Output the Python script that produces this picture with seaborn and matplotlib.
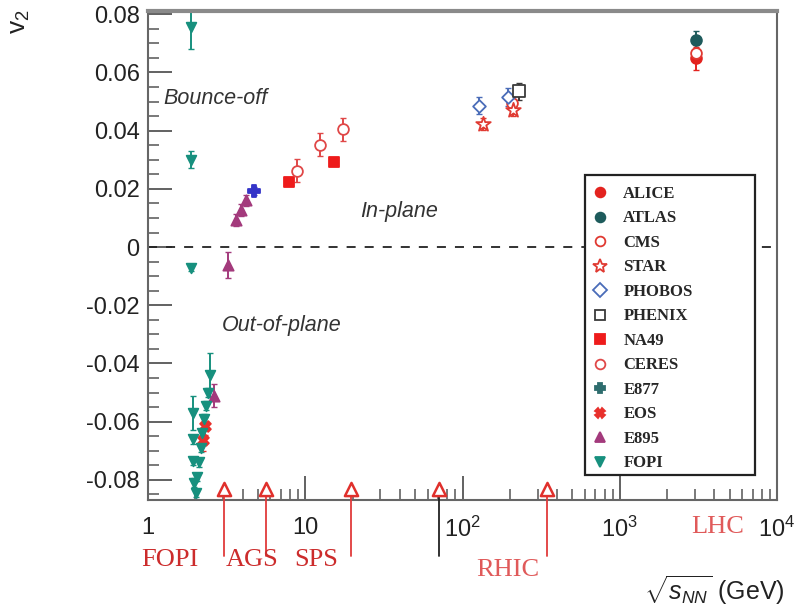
import matplotlib
matplotlib.use('Agg')
import numpy as np
import pandas as pd
import matplotlib.pyplot as plt
import seaborn as sns
from matplotlib.lines import Line2D
from matplotlib.patches import Rectangle
from matplotlib.ticker import MultipleLocator, FixedLocator, FuncFormatter, LogLocator, NullFormatter

# ---------------- data ----------------
alice_x = [3050]; alice_y = [0.0648]; alice_e = [0.004]
atlas_x = [3050]; atlas_y = [0.0712]; atlas_e = [0.003]
cms_x = [205, 3050]; cms_y = [0.0495, 0.0665]; cms_e = [0.002, 0.003]
star_x = [136, 208]; star_y = [0.0422, 0.0470]; star_e = [0.002, 0.002]
phobos_x = [127, 196]; phobos_y = [0.0486, 0.0515]; phobos_e = [0.003, 0.003]
phenix_x = [228]; phenix_y = [0.0535]; phenix_e = [0.003]
na49_x = [7.9, 15.3]; na49_y = [0.0222, 0.0292]; na49_e = [0.001, 0.001]
ceres_x = [8.8, 12.4, 17.5]; ceres_y = [0.0262, 0.0352, 0.0405]; ceres_e = [0.004, 0.004, 0.004]
e877_x = [4.72]; e877_y = [0.0193]; e877_e = [0.0015]
eos_x = [2.25, 2.31]; eos_y = [-0.0662, -0.0615]; eos_e = [0.004, 0.003]
e895_x = [2.62, 3.25, 3.62, 3.90, 4.20]; e895_y = [-0.0510, -0.0062, 0.0092, 0.0128, 0.0160]
e895_e = [0.004, 0.0045, 0.002, 0.002, 0.002]
fopi_x = [1.88, 1.88, 1.88, 1.92, 1.93, 1.94, 1.95, 2.01, 2.06, 2.11, 2.16, 2.21, 2.27, 2.33, 2.39, 2.47]
fopi_y = [0.0755, 0.0300, -0.0072, -0.0570, -0.0660, -0.0735, -0.0810, -0.0845, -0.0790,
          -0.0740, -0.0690, -0.0640, -0.0590, -0.0545, -0.0500, -0.0440]
fopi_e = [0.0075, 0.0030, 0.0010, 0.0060, 0.0015, 0.0015, 0.0015, 0.0015, 0.0015,
          0.0015, 0.0015, 0.0015, 0.0015, 0.0015, 0.0015, 0.0075]

arrow_x = [3.06, 5.6, 19.5, 71, 344]
region_labels = ['FOPI', 'AGS', 'SPS', 'RHIC', 'LHC']
xtick_vals = [1, 10, 100, 1000, 10000]
xtick_labels = ['1', '10', '$10^2$', '$10^3$', '$10^4$']
ytick_vals = [-0.08, -0.06, -0.04, -0.02, 0, 0.02, 0.04, 0.06, 0.08]

series = {
    'ALICE': (alice_x, alice_y, alice_e),
    'ATLAS': (atlas_x, atlas_y, atlas_e),
    'CMS': (cms_x, cms_y, cms_e),
    'STAR': (star_x, star_y, star_e),
    'PHOBOS': (phobos_x, phobos_y, phobos_e),
    'PHENIX': (phenix_x, phenix_y, phenix_e),
    'NA49': (na49_x, na49_y, na49_e),
    'CERES': (ceres_x, ceres_y, ceres_e),
    'E877': (e877_x, e877_y, e877_e),
    'EOS': (eos_x, eos_y, eos_e),
    'E895': (e895_x, e895_y, e895_e),
    'FOPI': (fopi_x, fopi_y, fopi_e),
}
rows = []
for name, (xs, ys, es) in series.items():
    for a, b, c in zip(xs, ys, es):
        rows.append({'exp': name, 'x': a, 'y': b, 'err': c})
df = pd.DataFrame(rows)

# style: marker, colour, filled, size
style = {
    'ALICE': ('o', '#e3231f', True, 60),
    'ATLAS': ('o', '#1e5b5c', True, 60),
    'CMS': ('o', '#e03a32', False, 60),
    'STAR': ('*', '#e03a32', False, 120),
    'PHOBOS': ('D', '#4a6cb8', False, 42),
    'PHENIX': ('s', '#3a3a3a', False, 65),
    'NA49': ('s', '#ee1b1b', True, 60),
    'CERES': ('o', '#e04848', False, 60),
    'E877': ('P', '#2e6d6e', True, 75),
    'EOS': ('X', '#e8302c', True, 60),
    'E895': ('^', '#a33a7c', True, 55),
    'FOPI': ('v', '#17907e', True, 48),
}
plot_color = dict((k, v[1]) for k, v in style.items())
plot_color['E877'] = '#3434c8'

# ---------------- figure ----------------
sns.set_style('white')
plt.rcParams['font.family'] = ['Liberation Sans', 'DejaVu Sans']
plt.rcParams['axes.unicode_minus'] = False
plt.rcParams['mathtext.fontset'] = 'custom'
plt.rcParams['mathtext.rm'] = 'Liberation Sans'
plt.rcParams['mathtext.it'] = 'Liberation Sans:italic'

fig = plt.figure(figsize=(8.11, 6.10), dpi=100)
ax = fig.add_axes([148 / 811, 1 - 500 / 610, (777 - 148) / 811, (500 - 11) / 610])
ax.set_xscale('log')

ax.axhline(0, color='#222222', lw=1.3, ls=(0, (5, 5)), zorder=1)

for name in series:
    m, c, filled, s = style[name]
    sub = df[df['exp'] == name]
    pc = plot_color[name]
    ax.errorbar(sub['x'], sub['y'], yerr=sub['err'], fmt='none', ecolor=pc,
                elinewidth=1.4, capsize=2, capthick=1.0, zorder=2)
    sns.scatterplot(data=sub, x='x', y='y', marker=m, color=pc, s=s,
                    edgecolor=pc, linewidth=1.3, ax=ax, legend=False, zorder=3)
    if not filled:
        ax.collections[-1].set_facecolor('white')

ax.set_xlim(1, 1e4)
ax.set_ylim(-0.0869, 0.0811)
ax.set_xlabel('')
ax.set_ylabel('')

# ticks
ax.xaxis.set_major_locator(FixedLocator(xtick_vals))
ax.set_xticklabels(xtick_labels)
ax.xaxis.set_minor_locator(LogLocator(base=10, subs=np.arange(2, 10), numticks=20))
ax.xaxis.set_minor_formatter(NullFormatter())
ax.yaxis.set_major_locator(FixedLocator(ytick_vals))
ax.yaxis.set_major_formatter(FuncFormatter(lambda v, p: '0' if abs(v) < 1e-9 else '%.2f' % v))
ax.yaxis.set_minor_locator(MultipleLocator(0.005))
ax.tick_params(bottom=True, left=True, top=False, right=False, which='both')
ax.tick_params(axis='both', which='major', direction='in', length=17, width=1.3,
               color='#555555', labelsize=17, labelcolor='#222222')
ax.tick_params(axis='both', which='minor', direction='in', length=8, width=1.1, color='#555555')
ax.tick_params(axis='x', which='major', pad=12)
ax.tick_params(axis='y', which='major', pad=6)

for side, sp in ax.spines.items():
    sp.set_visible(True)
    sp.set_color('#666666')
    sp.set_linewidth(1.5)
ax.spines['top'].set_linewidth(3)
ax.spines['top'].set_color('#8a8a8a')

# arrows at the bottom
for i, xv in enumerate(arrow_x):
    lc = '#222222' if i == 3 else '#e03a3a'
    ax.plot([xv, xv], [-0.0835, -0.106], color=lc, lw=1.3, clip_on=False, zorder=4)
    ax.scatter([xv], [-0.0832], marker='^', s=90, facecolor='white', edgecolor='#e0302c',
               linewidth=1.8, clip_on=False, zorder=5)

# region labels
serif = 'Liberation Serif'
for lab, (px, py) in zip(region_labels, [(170, 560), (252, 560), (316, 560), (508, 570), (718, 527)]):
    col = '#cc2c2c' if lab in ('FOPI', 'AGS', 'SPS') else '#e05a5a'
    fig.text(px / 811, 1 - py / 610, lab, family=serif, fontsize=19, color=col,
             ha='center', va='center')

# annotations
ax.text(163 / 811, 1 - 98 / 610, 'Bounce-off', transform=fig.transFigure, style='italic',
        fontsize=15.5, color='#333333', ha='left', va='center')
ax.text(360 / 811, 1 - 212 / 610, 'In-plane', transform=fig.transFigure, style='italic',
        fontsize=15.5, color='#333333', ha='left', va='center')
ax.text(222 / 811, 1 - 326 / 610, 'Out-of-plane', transform=fig.transFigure, style='italic',
        fontsize=15.5, color='#333333', ha='left', va='center')

# axis labels
fig.text(20 / 811, 1 - 22 / 610, 'v$_2$', rotation=90, fontsize=19, color='#222222',
         ha='center', va='center')
fig.text(785 / 811, 1 - 590 / 610, r'$\sqrt{s_{NN}}$ (GeV)', fontsize=18, color='#222222',
         ha='right', va='center')

# legend (frame drawn as a separate box to match the reference size)
x0, x1 = (585 - 148) / (777 - 148), (755 - 148) / (777 - 148)
y0, y1 = 1 - (475 - 11) / 489, 1 - (175 - 11) / 489
ax.add_patch(Rectangle((x0, y0), x1 - x0, y1 - y0, transform=ax.transAxes,
                       facecolor='white', edgecolor='#222222', linewidth=1.6, zorder=6))
handles = []
for name in series:
    m, c, filled, s = style[name]
    handles.append(Line2D([], [], marker=m, linestyle='none', color=c,
                          markerfacecolor=c if filled else 'white', markeredgecolor=c,
                          markeredgewidth=1.3, markersize=7 if m != '*' else 10))
leg = ax.legend(handles, list(series.keys()), loc='upper left',
                bbox_to_anchor=(x0 + 0.0, y1 - 0.012), frameon=False,
                prop={'family': serif, 'weight': 'bold', 'size': 12},
                labelspacing=0.51, handletextpad=0.8, handlelength=1.2, borderpad=0.3,
                borderaxespad=0)
leg.set_zorder(7)

fig.savefig('out.png', dpi=100, facecolor='white')
